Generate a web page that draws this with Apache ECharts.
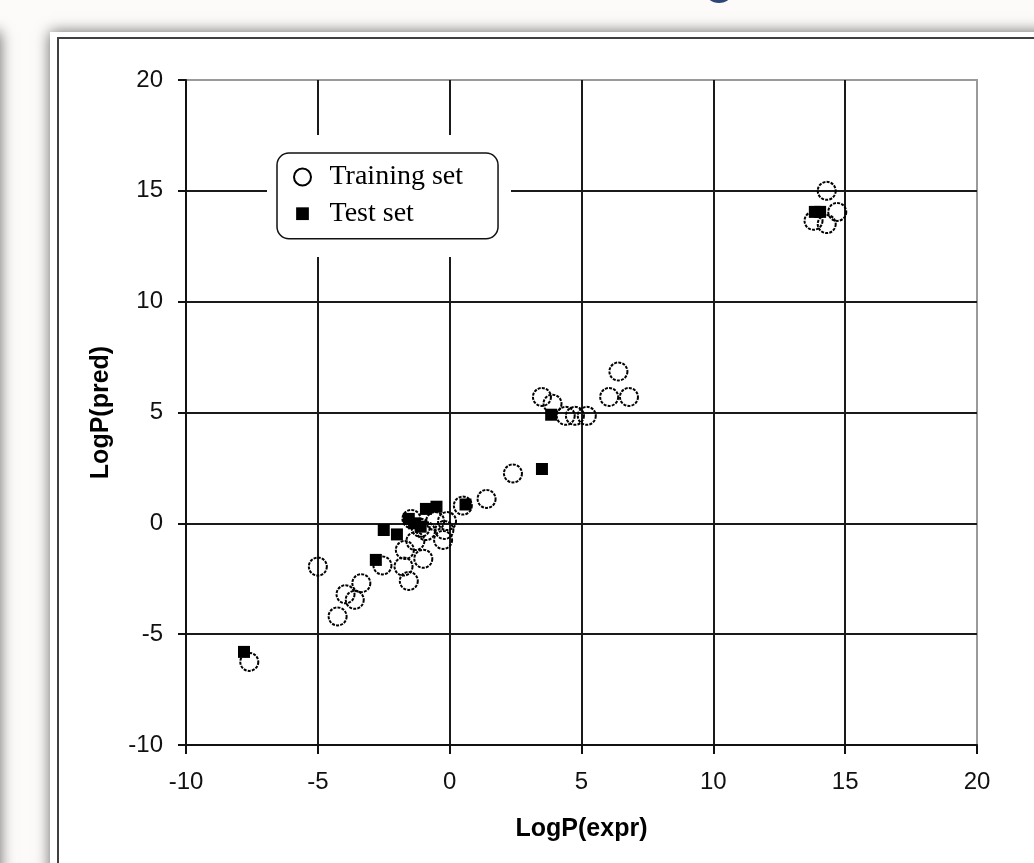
<!DOCTYPE html>
<html>
<head>
<meta charset="utf-8">
<script src="https://cdn.jsdelivr.net/npm/echarts@6/dist/echarts.min.js"></script>
<style>
  html, body { margin: 0; padding: 0; background: #fcfbf9; }
  #chart { width: 1034px; height: 863px; }
</style>
</head>
<body>
<div id="chart"></div>
<script>
// ---- data ----
const trainingSet = [
  [-7.6, -6.25], [-5.0, -1.95], [-4.25, -4.2], [-3.95, -3.2], [-3.6, -3.45],
  [-3.35, -2.7], [-2.55, -1.9], [-1.75, -1.95], [-1.55, -2.6], [-1.0, -1.6],
  [-1.7, -1.2], [-1.3, -0.8], [-0.9, -0.35], [-0.25, -0.75], [-0.55, 0.1],
  [-0.1, 0.1], [-0.2, -0.3], [-1.45, 0.2], [-1.1, -0.2], [0.5, 0.8],
  [1.4, 1.1], [2.4, 2.25], [3.5, 5.7], [3.9, 5.4], [4.4, 4.85],
  [4.75, 4.85], [5.2, 4.85], [6.05, 5.7], [6.8, 5.7], [6.4, 6.85],
  [13.8, 13.65], [14.3, 13.5], [14.7, 14.05], [14.3, 15.0]
];
const testSet = [
  [-7.8, -5.8], [-2.8, -1.65], [-2.5, -0.3], [-2.0, -0.5], [-1.55, 0.2],
  [-1.35, 0.0], [-1.1, -0.15], [-0.9, 0.65], [-0.5, 0.75], [0.6, 0.85],
  [3.5, 2.45], [3.85, 4.9], [13.85, 14.05], [14.05, 14.05]
];
const seriesNames = ['Training set', 'Test set'];
const axisNames = { x: 'LogP(expr)', y: 'LogP(pred)' };
const axisRange = { min: -10, max: 20, interval: 5 };

const chart = echarts.init(document.getElementById('chart'), null, { renderer: 'canvas' });

const squareIcon = 'path://M0,0M16,16M2,2h12v12h-12z';

const option = {
  backgroundColor: '#fcfbf9',
  animation: false,
  graphic: [
    { type: 'rect', z: -10, shape: { x: -300, y: 32, width: 300, height: 1000 },
      style: { fill: '#fcfbf9', shadowBlur: 14, shadowColor: 'rgba(0,0,0,0.6)' }, silent: true },
    { type: 'rect', z: -10, shape: { x: 50, y: 32, width: 1200, height: 1000 },
      style: { fill: '#ffffff', shadowBlur: 14, shadowColor: 'rgba(0,0,0,0.6)' }, silent: true },
    { type: 'rect', z: -9, shape: { x: 58, y: 38, width: 1200, height: 1000 },
      style: { fill: 'none', stroke: '#404040', lineWidth: 2 }, silent: true },
    { type: 'ellipse', z: -9, shape: { cx: 719, cy: -9, rx: 14, ry: 12 },
      style: { fill: '#2d4776' }, silent: true },
    { type: 'rect', z: 3, shape: { x: 267, y: 135, width: 244, height: 122 },
      style: { fill: '#ffffff' }, silent: true }
  ],
  grid: {
    left: 186, right: 57, top: 80, bottom: 118,
    show: true, backgroundColor: '#ffffff', borderColor: '#9a9a9a', borderWidth: 2,
    outerBoundsMode: 'none', containLabel: false
  },
  legend: {
    orient: 'vertical',
    left: 277, top: 153,
    padding: [10, 35, 11, 16],
    itemGap: 8.7,
    itemWidth: 44, itemHeight: 17,
    backgroundColor: '#ffffff',
    borderColor: '#111', borderWidth: 1.5, borderRadius: 12,
    z: 5,
    selectedMode: false,
    textStyle: { fontFamily: 'Liberation Serif', fontSize: 28, color: '#000' },
    data: [
      { name: seriesNames[0], icon: 'circle' },
      { name: seriesNames[1], icon: squareIcon }
    ]
  },
  xAxis: {
    type: 'value',
    min: axisRange.min, max: axisRange.max, interval: axisRange.interval,
    name: axisNames.x, nameLocation: 'middle', nameGap: 72,
    nameTextStyle: { fontFamily: 'Liberation Sans', fontSize: 25, fontWeight: 'bold', color: '#000' },
    axisLine: { show: true, onZero: false, lineStyle: { color: '#111', width: 2 } },
    axisTick: { show: true, inside: false, length: 9, lineStyle: { color: '#111', width: 2 } },
    axisLabel: { margin: 25, fontFamily: 'Liberation Sans', fontSize: 24, color: '#111' },
    splitLine: { show: true, showMinLine: false, showMaxLine: false, lineStyle: { color: '#1a1a1a', width: 2 } }
  },
  yAxis: {
    type: 'value',
    min: axisRange.min, max: axisRange.max, interval: axisRange.interval,
    name: axisNames.y, nameLocation: 'middle', nameGap: 72,
    nameTextStyle: { fontFamily: 'Liberation Sans', fontSize: 25, fontWeight: 'bold', color: '#000' },
    axisLine: { show: true, onZero: false, lineStyle: { color: '#111', width: 2 } },
    axisTick: { show: true, inside: false, length: 8, lineStyle: { color: '#111', width: 2 } },
    axisLabel: { margin: 23, fontFamily: 'Liberation Sans', fontSize: 24, color: '#111' },
    splitLine: { show: true, showMinLine: false, showMaxLine: false, lineStyle: { color: '#1a1a1a', width: 2 } }
  },
  series: [
    {
      name: seriesNames[0], type: 'scatter', data: trainingSet,
      symbol: 'circle', symbolSize: 18,
      itemStyle: { color: 'rgba(255,255,255,0)', borderColor: '#000', borderWidth: 2, borderType: [3, 1.2], opacity: 1 },
      emphasis: { disabled: true }
    },
    {
      name: seriesNames[1], type: 'scatter', data: testSet,
      symbol: 'rect', symbolSize: 12,
      itemStyle: { color: '#000', opacity: 1 },
      emphasis: { disabled: true }
    }
  ]
};
chart.setOption(option);
</script>
</body>
</html>
